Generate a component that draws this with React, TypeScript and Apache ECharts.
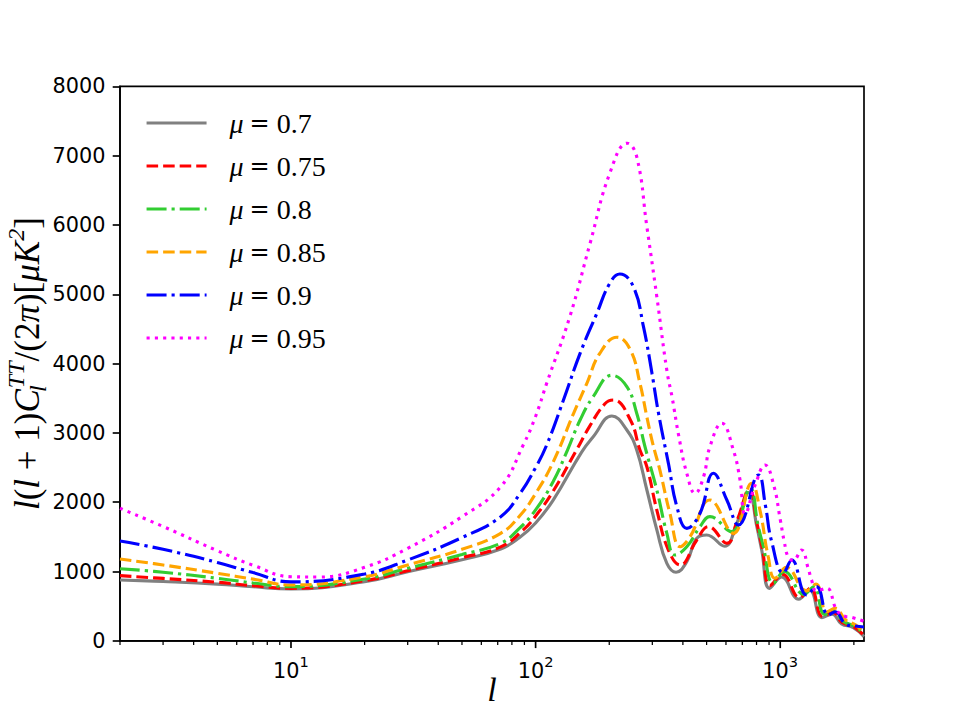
import { useEffect, useRef } from "react";
import * as echarts from "echarts";

// ---- data ----
const seriesNames = ["μ=0.7", "μ=0.75", "μ=0.8", "μ=0.85", "μ=0.9", "μ=0.95"];

const mu070: [number, number][] = [
  [2, 877], [3, 855], [5, 818], [7, 780], [10, 748], [20, 853], [30, 997], [50, 1170],
  [72, 1325], [86, 1490], [100, 1700], [118, 2030], [154, 2720], [172, 2945], [205, 3244],
  [236, 3042], [259, 2753], [285, 2176], [313, 1600], [344, 1118], [375, 990], [415, 1141],
  [456, 1479], [500, 1527], [592, 1365], [664, 1695], [745, 2140], [802, 1650], [840, 1310],
  [905, 757], [1014, 920], [1190, 600], [1320, 730], [1480, 335], [1630, 385], [1780, 245],
  [1990, 190], [2200, 60],
];
const mu075: [number, number][] = [
  [2, 940], [3, 900], [5, 845], [7, 795], [10, 757], [20, 867], [30, 1012], [50, 1200],
  [72, 1355], [89, 1600], [100, 1800], [118, 2160], [147, 2753], [166, 3090], [192, 3420],
  [208, 3475], [244, 3186], [267, 2753], [285, 2512], [313, 1887], [349, 1310], [390, 1094],
  [456, 1455], [509, 1647], [605, 1407], [670, 1760], [748, 2190], [805, 1680], [845, 1330],
  [910, 800], [1022, 960], [1200, 625], [1330, 760], [1490, 350], [1640, 410], [1790, 265],
  [2000, 200], [2200, 75],
];
const mu080: [number, number][] = [
  [2, 1040], [3, 990], [5, 902], [7, 835], [10, 781], [20, 892], [30, 1046], [50, 1245],
  [72, 1407], [86, 1625], [100, 1890], [118, 2300], [135, 2753], [152, 3186], [172, 3523],
  [205, 3831], [236, 3667], [259, 3283], [280, 2800], [313, 2176], [344, 1551], [371, 1238],
  [415, 1358], [470, 1647], [516, 1791], [631, 1575], [753, 2200], [810, 1680], [850, 1380],
  [938, 830], [1040, 1000], [1250, 670], [1370, 780], [1520, 380], [1650, 430], [1810, 280],
  [2020, 210], [2200, 95],
];
const mu085: [number, number][] = [
  [2, 1180], [3, 1094], [5, 974], [7, 890], [10, 805], [20, 925], [30, 1094], [50, 1320],
  [72, 1551], [86, 1800], [100, 2125], [118, 2580], [143, 3283], [162, 3716], [183, 4148],
  [215, 4380], [244, 4196], [267, 3716], [285, 3230], [301, 2850], [322, 2465], [354, 1840],
  [390, 1358], [428, 1502], [516, 2032], [643, 1551], [764, 2273], [826, 1887], [893, 1214],
  [952, 902], [1060, 1060], [1280, 720], [1400, 820], [1550, 420], [1680, 470], [1850, 300],
  [2030, 230], [2200, 115],
];
const mu090: [number, number][] = [
  [2, 1440], [3, 1320], [5, 1130], [7, 985], [10, 850], [20, 964], [30, 1166], [50, 1490],
  [72, 1791], [86, 2116], [100, 2500], [111, 2825], [130, 3475], [152, 4148], [178, 4726],
  [201, 5159], [221, 5293], [251, 5110], [276, 4533], [299, 3860], [318, 3283], [349, 2561],
  [378, 1935], [415, 1623], [470, 1840], [533, 2417], [605, 2032], [675, 1671], [815, 2393],
  [870, 1950], [920, 1450], [1030, 980], [1114, 1166], [1283, 661], [1406, 781], [1570, 372],
  [1680, 420], [1850, 240], [2000, 215], [2200, 200],
];
const mu095: [number, number][] = [
  [2, 1912], [3, 1650], [5, 1300], [7, 1090], [10, 925], [13, 920], [20, 1060], [30, 1335],
  [50, 1791], [72, 2224], [89, 2825], [100, 3240], [111, 3716], [138, 4677], [167, 5736],
  [201, 6746], [237, 7180], [259, 6986], [285, 5975], [313, 4965], [344, 3900], [362, 3500],
  [385, 2950], [415, 2417], [449, 2128], [486, 2368], [516, 2801], [577, 3140], [643, 2753],
  [685, 2320], [718, 1830], [790, 2250], [867, 2537], [940, 2250], [1000, 1750], [1040, 1420],
  [1080, 1200], [1130, 1160], [1222, 1310], [1300, 1050], [1343, 877], [1406, 720],
  [1549, 757], [1702, 444], [1850, 350], [1950, 340], [2200, 280],
];
const seriesData = [mu070, mu075, mu080, mu085, mu090, mu095];

const xMajorTicks = [10, 100, 1000];
const xMinorTicks = [
  2, 3, 4, 5, 6, 7, 8, 9, 20, 30, 40, 50, 60, 70, 80, 90,
  200, 300, 400, 500, 600, 700, 800, 900, 2000,
];

// ---- styles ----
const colors = ["#808080", "#ff0000", "#32cd32", "#ffa500", "#0000ff", "#ff00ff"];
const LW = 3.125;
const dashed = [11.56, 5.0];
const dashdot = [20.0, 5.0, 3.125, 5.0];
const dotted = [3.125, 5.16];
const lineTypes: any[] = ["solid", dashed, dashdot, dashed, dashdot, dotted];

const SANS = "DejaVu Sans";
const SERIF = "Liberation Serif";

export default function App() {
  const ref = useRef<HTMLDivElement>(null);
  useEffect(() => {
    if (!ref.current) return;
    const chart = echarts.init(ref.current, null, { renderer: "svg" });

    const tickData = [
      ...xMajorTicks.map((v) => [v, 0, 1]),
      ...xMinorTicks.map((v) => [v, 0, 0]),
    ];

    const option: any = {
      animation: false,
      backgroundColor: "#ffffff",
      grid: {
        left: 120,
        right: 96,
        top: 86.4,
        bottom: 79.2,
        show: true,
        borderColor: "#000",
        borderWidth: 1.67,
        backgroundColor: "transparent",
      },
      xAxis: {
        type: "log",
        logBase: 10,
        min: 2,
        max: 2200,
        axisLine: { show: true, lineStyle: { color: "#000", width: 1.67 } },
        axisTick: { show: false },
        splitLine: { show: false },
        minorTick: { show: false },
        axisLabel: {
          margin: 13,
          color: "#000",
          formatter: (v: number) => {
            const lg = Math.log10(v);
            const e = Math.round(lg);
            if (Math.abs(lg - e) > 1e-6) return "";
            return `{b|10}{s|${e}}`;
          },
          rich: {
            b: { fontFamily: SANS, fontSize: 20.8, lineHeight: 28, verticalAlign: "bottom", color: "#000" },
            s: { fontFamily: SANS, fontSize: 14.6, lineHeight: 15, verticalAlign: "top", color: "#000" },
          },
        },
      },
      yAxis: {
        type: "value",
        min: 0,
        max: 8000,
        interval: 1000,
        axisLine: { show: true, lineStyle: { color: "#000", width: 1.67 } },
        axisTick: { show: true, length: 7.3, lineStyle: { color: "#000", width: 1.67 } },
        splitLine: { show: false },
        axisLabel: {
          margin: 14.6,
          color: "#000",
          fontFamily: SANS,
          fontSize: 20.8,
          formatter: (v: number) => String(v),
        },
      },
      legend: {
        data: seriesNames,
        orient: "vertical",
        left: 145,
        top: 109,
        itemWidth: 60,
        itemHeight: 14,
        itemGap: 15,
        padding: 0,
        selectedMode: false,
        itemStyle: { opacity: 0 },
        lineStyle: { width: LW },
        formatter: (name: string) => `{i|μ}{e|=}{n|${name.split("=")[1]}}`,
        textStyle: {
          padding: [0, 0, 0, 18],
          color: "#000",
          rich: {
            i: { fontFamily: SERIF, fontStyle: "italic", fontSize: 28, lineHeight: 30, color: "#000" },
            e: { fontFamily: "DejaVu Serif", fontSize: 24, lineHeight: 30, padding: [0, 7, 0, 6], color: "#000" },
            n: { fontFamily: SERIF, fontSize: 28, lineHeight: 30, color: "#000" },
          },
        },
      },
      graphic: [
        {
          type: "text",
          x: 27,
          y: 363.6,
          rotation: Math.PI / 2,
          style: {
            text: "{i|l}{n|(}{i|l}{n| + 1)}{i|C}{sub|l}{sup|TT}{n|/(2}{i|π}{n|)[}{i|μK}{sup|2}{n|]}",
            align: "center",
            verticalAlign: "middle",
            fill: "#000",
            rich: {
              i: { fontFamily: SERIF, fontStyle: "italic", fontSize: 35, lineHeight: 46, verticalAlign: "middle", fill: "#000" },
              n: { fontFamily: SERIF, fontSize: 35, lineHeight: 46, verticalAlign: "middle", fill: "#000" },
              sub: { fontFamily: SERIF, fontStyle: "italic", fontSize: 24, lineHeight: 24, width: 1, verticalAlign: "bottom", fill: "#000" },
              sup: { fontFamily: SERIF, fontStyle: "italic", fontSize: 24, lineHeight: 24, verticalAlign: "top", fill: "#000" },
            },
          },
        },
        {
          type: "text",
          x: 492,
          y: 689,
          style: {
            text: "l",
            align: "center",
            verticalAlign: "middle",
            fontFamily: SERIF,
            fontStyle: "italic",
            fontSize: 34,
            fill: "#000",
          },
        },
      ],
      series: [
        ...seriesData.map((d, i) => ({
          name: seriesNames[i],
          type: "line",
          data: d,
          symbol: "none",
          showSymbol: false,
          smooth: 0.45,
          clip: true,
          lineStyle: { color: colors[i], width: LW, type: lineTypes[i], cap: "butt" },
          itemStyle: { color: colors[i] },
          emphasis: { disabled: true },
        })),
        {
          type: "custom",
          name: "xticks",
          data: tickData,
          silent: true,
          clip: false,
          z: 10,
          encode: { x: 0, y: 1 },
          renderItem: (_p: any, api: any) => {
            const pt = api.coord([api.value(0), 0]);
            const major = api.value(2) === 1;
            return {
              type: "line",
              shape: { x1: pt[0], y1: pt[1], x2: pt[0], y2: pt[1] + (major ? 7.3 : 4.2) },
              style: { stroke: "#000", lineWidth: major ? 1.67 : 1.25 },
            };
          },
        },
      ],
    };
    chart.setOption(option);
    return () => chart.dispose();
  }, []);

  return (
    <div style={{ margin: -8 }}>
      <div ref={ref} style={{ width: 960, height: 720, background: "#fff" }} />
    </div>
  );
}
